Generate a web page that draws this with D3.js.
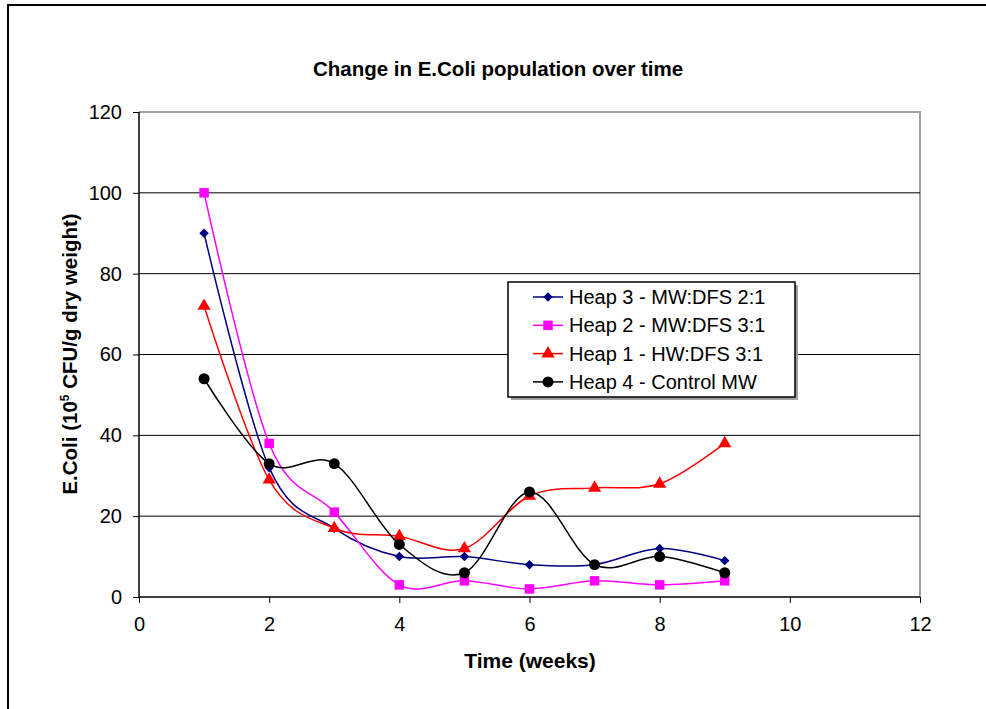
<!DOCTYPE html>
<html>
<head>
<meta charset="utf-8">
<script src="https://cdn.jsdelivr.net/npm/d3@7"></script>
<style>
  body { margin: 0; background: #fff; }
  text { font-family: "Liberation Sans", Arial, sans-serif; }
</style>
</head>
<body>
<div id="chart"></div>
<script>
// data
const weeks = [1, 2, 3, 4, 5, 6, 7, 8, 9];
const heap3 = [90, 32, 17, 10, 10, 8, 8, 12, 9];
const heap2 = [100, 38, 21, 3, 4, 2, 4, 3, 4];
const heap1 = [72, 29, 17, 15, 12, 25, 27, 28, 38];
const heap4 = [54, 33, 33, 13, 6, 26, 8, 10, 6];
const seriesNames = ["Heap 3 - MW:DFS 2:1", "Heap 2 - MW:DFS 3:1", "Heap 1 - HW:DFS 3:1", "Heap 4 - Control MW"];
const xTicks = [0, 2, 4, 6, 8, 10, 12];
const yTicks = [0, 20, 40, 60, 80, 100, 120];

const width = 986, height = 709;
const margin = {top: 112, right: 66, bottom: 112, left: 139};

const svg = d3.select("#chart").append("svg")
    .attr("width", width)
    .attr("height", height);

// outer chart frame (runs off the right/bottom edge)
svg.append("rect")
    .attr("x", 8).attr("y", 5)
    .attr("width", 1000).attr("height", 720)
    .attr("fill", "none")
    .attr("stroke", "#000")
    .attr("stroke-width", 2);

const x = d3.scaleLinear().domain([0, 12]).range([margin.left, width - margin.right]);
const y = d3.scaleLinear().domain([0, 120]).range([height - margin.bottom, margin.top]);

// plot border top/right in grey
svg.append("path")
    .attr("d", "M" + x(0) + "," + y(120) + "H" + x(12) + "V" + y(0))
    .attr("fill", "none")
    .attr("stroke", "#a0a0a0")
    .attr("stroke-width", 2);

// gridlines
svg.append("g")
    .selectAll("line")
    .data(yTicks.filter(d => d > 0 && d < 120))
    .enter().append("line")
    .attr("x1", x(0)).attr("x2", x(12))
    .attr("y1", d => y(d)).attr("y2", d => y(d))
    .attr("stroke", "#000")
    .attr("stroke-width", 1);

// axes
const xAxis = svg.append("g")
    .attr("transform", "translate(0," + y(0) + ")")
    .call(d3.axisBottom(x).tickValues(xTicks).tickSize(6).tickPadding(14));
const yAxis = svg.append("g")
    .attr("transform", "translate(" + x(0) + ",0)")
    .call(d3.axisLeft(y).tickValues(yTicks).tickSize(6).tickPadding(11));

[xAxis, yAxis].forEach(ax => {
    ax.select(".domain").attr("stroke", "#000").attr("stroke-width", 1.5);
    ax.selectAll(".tick line").attr("stroke", "#000");
    ax.selectAll(".tick text")
        .attr("fill", "#000")
        .style("font-family", "'Liberation Sans', Arial, sans-serif")
        .style("font-size", "20px");
});
xAxis.select(".domain").attr("d", "M" + x(0) + ",0H" + x(12));
yAxis.select(".domain").attr("d", "M0," + y(0) + "V" + y(120));

// titles
svg.append("text")
    .attr("x", 498).attr("y", 76)
    .attr("text-anchor", "middle")
    .style("font-size", "20.5px").style("font-weight", "bold")
    .text("Change in E.Coli population over time");

svg.append("text")
    .attr("x", 530).attr("y", 668)
    .attr("text-anchor", "middle")
    .style("font-size", "21px").style("font-weight", "bold")
    .text("Time (weeks)");

const yLabel = svg.append("text")
    .attr("transform", "translate(77,354) rotate(-90)")
    .attr("text-anchor", "middle")
    .style("font-size", "20.5px").style("font-weight", "bold");
yLabel.append("tspan").text("E.Coli (10");
yLabel.append("tspan").attr("dy", -8).style("font-size", "12px").text("5");
yLabel.append("tspan").attr("dy", 8).text(" CFU/g dry weight)");

// series
const series = [
    {name: seriesNames[0], values: heap3, color: "#000080", shape: d3.symbolSquare, size: 45, rot: 45},
    {name: seriesNames[1], values: heap2, color: "#ff00ff", shape: d3.symbolSquare, size: 90, rot: 0},
    {name: seriesNames[2], values: heap1, color: "#ff0000", shape: d3.symbolTriangle, size: 75, rot: 0},
    {name: seriesNames[3], values: heap4, color: "#000000", shape: d3.symbolCircle, size: 95, rot: 0}
];

const line = d3.line()
    .x(d => x(d[0]))
    .y(d => y(d[1]))
    .curve(d3.curveCardinal.tension(0));

series.forEach(s => {
    const pts = weeks.map((w, i) => [w, s.values[i]]);
    svg.append("path")
        .datum(pts)
        .attr("d", line)
        .attr("fill", "none")
        .attr("stroke", s.color)
        .attr("stroke-width", 1.5);
    svg.append("g")
        .selectAll("path")
        .data(pts)
        .enter().append("path")
        .attr("transform", d => "translate(" + x(d[0]) + "," + y(d[1]) + ") rotate(" + s.rot + ")")
        .attr("d", d3.symbol().type(s.shape).size(s.size))
        .attr("fill", s.color);
});

// legend
const legend = svg.append("g");
legend.append("rect")
    .attr("x", 511).attr("y", 285)
    .attr("width", 287).attr("height", 115)
    .attr("fill", "#a0a0a0");
legend.append("rect")
    .attr("x", 508).attr("y", 282)
    .attr("width", 287).attr("height", 115)
    .attr("fill", "#fff")
    .attr("stroke", "#000")
    .attr("stroke-width", 1.5);

const item = legend.selectAll(".item")
    .data(series)
    .enter().append("g")
    .attr("class", "item")
    .attr("transform", (d, i) => "translate(0," + (297 + i * 28.3) + ")");
item.append("line")
    .attr("x1", 533).attr("x2", 563)
    .attr("stroke", d => d.color)
    .attr("stroke-width", 1.5);
item.append("path")
    .attr("transform", d => "translate(548,0) rotate(" + d.rot + ")")
    .attr("d", d => d3.symbol().type(d.shape).size(d.size)())
    .attr("fill", d => d.color);
item.append("text")
    .attr("x", 569).attr("y", 7)
    .style("font-size", "20px")
    .text(d => d.name);
</script>
</body>
</html>
